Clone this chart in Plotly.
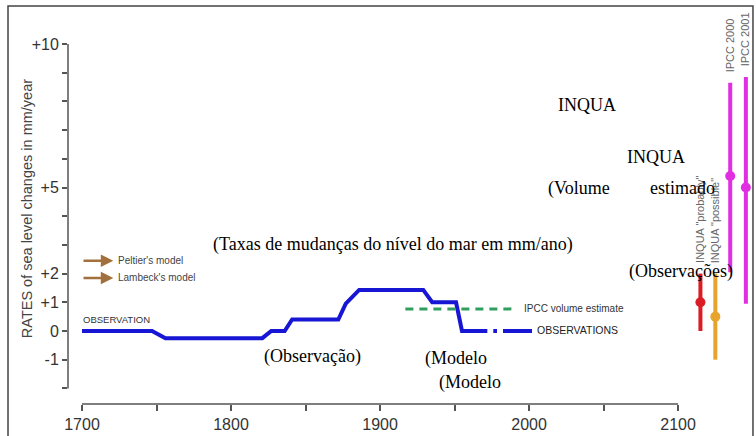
import plotly.graph_objects as go

# ---------------- data ----------------
obs_years = [1700, 1747, 1756, 1821, 1827, 1836, 1841, 1872, 1877, 1886, 1929, 1935, 1951, 1955, 1972]
obs_rates = [0, 0, -0.25, -0.25, 0, 0, 0.4, 0.4, 0.95, 1.43, 1.43, 1.0, 1.0, 0, 0]
obs_tail_years = [1976, 1978.5, None, 1982.5, 2002]
obs_tail_rates = [0, 0, None, 0, 0]

ipcc_vol_years = [1917, 1991]
ipcc_vol_rates = [0.77, 0.77]

proj_labels = ['INQUA "probably"', 'INQUA "possible"', 'IPCC 2000', 'IPCC 2001']
proj_years = [2115, 2125, 2135, 2145.5]
proj_center = [1.0, 0.5, 5.4, 5.0]
proj_low = [0.0, -1.0, 2.05, 0.95]
proj_high = [2.0, 2.0, 8.65, 8.85]

model_names = ["Peltier's model", "Lambeck's model"]
model_rates = [2.45, 1.85]

y_tickvals = list(range(-2, 11))
y_ticktext = ['', '-1', '0', '+1', '+2', '', '', '+5', '', '', '', '', '+10']
x_tickvals = [1700, 1750, 1800, 1850, 1900, 1950, 2000, 2050, 2100]
x_ticktext = ['1700', '', '1800', '', '1900', '', '2000', '', '2100']

# ---------------- styles ----------------
BLUE = '#1616d4'
GREEN = '#2f9e5f'
BROWN = '#a2703c'
proj_colors = ['#dc1c24', '#e8a32c', '#e22ee2', '#e22ee2']
AXIS = '#555555'
TXT = '#333333'
SANS = 'Liberation Sans, Arial, sans-serif'
SERIF = 'Liberation Serif, Times New Roman, serif'

fig = go.Figure()

fig.add_trace(go.Scatter(x=obs_years, y=obs_rates, mode='lines',
                         line=dict(color=BLUE, width=4), hoverinfo='skip'))
fig.add_trace(go.Scatter(x=obs_tail_years, y=obs_tail_rates, mode='lines',
                         line=dict(color=BLUE, width=4), hoverinfo='skip'))
fig.add_trace(go.Scatter(x=ipcc_vol_years, y=ipcc_vol_rates, mode='lines',
                         line=dict(color=GREEN, width=3, dash='8px,6px'), hoverinfo='skip'))

for i in range(len(proj_labels)):
    fig.add_trace(go.Scatter(
        x=[proj_years[i]], y=[proj_center[i]], mode='markers',
        marker=dict(color=proj_colors[i], size=10),
        error_y=dict(type='data', symmetric=False,
                     array=[proj_high[i] - proj_center[i]],
                     arrayminus=[proj_center[i] - proj_low[i]],
                     color=proj_colors[i], thickness=4, width=0),
        hoverinfo='skip'))
    fig.add_annotation(x=proj_years[i], y=proj_high[i] + 0.3,
                       text=proj_labels[i], textangle=-90, showarrow=False,
                       xanchor='center', yanchor='bottom',
                       font=dict(family=SANS, size=11, color='#666666'))

# model arrows + labels
for name, r in zip(model_names, model_rates):
    fig.add_annotation(x=1721, y=r, ax=1700, ay=r, axref='x', ayref='y',
                       xref='x', yref='y', text='', showarrow=True,
                       arrowhead=2, arrowsize=1, arrowwidth=2.5, arrowcolor=BROWN)
    fig.add_annotation(x=1723, y=r, text=name, showarrow=False, xanchor='left',
                       font=dict(family=SANS, size=10, color='#444444'))

fig.add_annotation(x=1699, y=0.4, text='OBSERVATION', showarrow=False, xanchor='left',
                   font=dict(family=SANS, size=9.5, color='#333333'))
fig.add_annotation(x=1995, y=0.77, text='IPCC volume estimate', showarrow=False,
                   xanchor='left', font=dict(family=SANS, size=10, color='#333333'))
fig.add_annotation(x=2004, y=0.02, text='OBSERVATIONS', showarrow=False,
                   xanchor='left', font=dict(family=SANS, size=10.5, color='#222222'))

# overlay Portuguese texts
serif_texts = [
    ('INQUA', 2039, 7.87, 'center'),
    ('INQUA', 2085, 6.06, 'center'),
    ('(Volume', 2011.5, 4.98, 'left'),
    ('estimado', 2079.5, 4.98, 'left'),
    ('(Taxas de mudanças do nível do mar em mm/ano)', 1909, 3.0, 'center'),
    ('(Observações)', 2065.5, 2.06, 'left'),
    ('(Observação)', 1820.5, -0.88, 'left'),
    ('(Modelo', 1928.5, -0.95, 'left'),
    ('(Modelo', 1938.5, -1.78, 'left'),
]
for t, xx, yy, anc in serif_texts:
    fig.add_annotation(x=xx, y=yy, text=t, showarrow=False, xanchor=anc,
                       font=dict(family=SERIF, size=18, color='#000000'))

# y-axis title
fig.add_annotation(xref='paper', yref='paper', x=-0.0596, y=0.497,
                   text='RATES of sea level changes in mm/year', textangle=-90,
                   showarrow=False, xanchor='center', yanchor='middle',
                   font=dict(family=SANS, size=14.5, color='#444444'))

# axis lines (limited spans) and frame
fig.add_shape(type='line', xref='paper', yref='y', x0=0, x1=0, y0=-2, y1=10,
              line=dict(color=AXIS, width=1.5))
fig.add_shape(type='line', xref='x', yref='paper', x0=1700, x1=2100, y0=0, y1=0,
              line=dict(color=AXIS, width=1.5))
fig.add_shape(type='rect', xref='paper', yref='paper', x0=-0.0872, x1=0.9956,
              y0=-0.3, y1=1.0102, line=dict(color='#444444', width=1.5))

fig.update_xaxes(range=[1690.6, 2152.3], showgrid=False, zeroline=False, showline=False,
                 tickmode='array', tickvals=x_tickvals, ticktext=x_ticktext,
                 ticks='outside', ticklen=6, tickwidth=1.5, tickcolor=AXIS,
                 tickfont=dict(family=SANS, size=16, color=TXT))
fig.update_yaxes(range=[-2.544, 11.185], showgrid=False, zeroline=False, showline=False,
                 tickmode='array', tickvals=y_tickvals, ticktext=y_ticktext,
                 ticks='outside', ticklen=5, tickwidth=1.5, tickcolor=AXIS,
                 tickfont=dict(family=SANS, size=16, color=TXT))

fig.update_layout(width=756, height=436, margin=dict(l=68, r=0, t=10, b=32),
                  paper_bgcolor='white', plot_bgcolor='white', showlegend=False)

fig.write_html('out.html', config={'displayModeBar': False},
               post_script="document.body.style.margin='0px';document.body.style.overflow='hidden';")
